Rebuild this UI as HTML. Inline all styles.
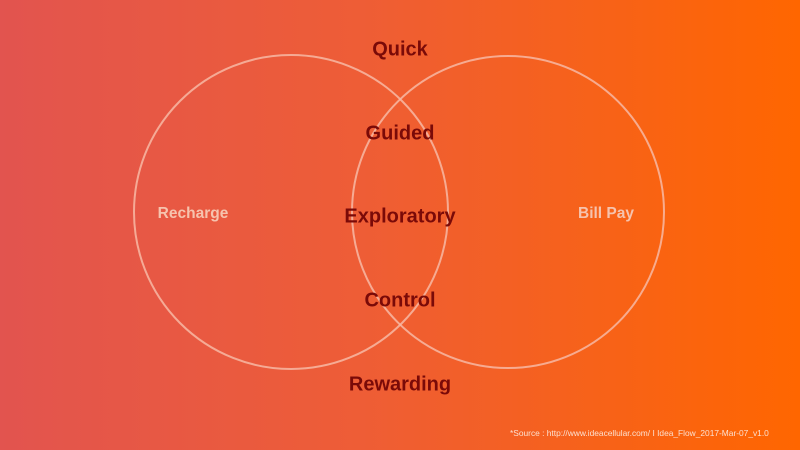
<!DOCTYPE html>
<html><head><style>
html,body{margin:0;padding:0}
body{width:800px;height:450px;overflow:hidden;background:linear-gradient(to right,#E2544F 0%,#EE5D36 45%,#FF6600 100%);font-family:"Liberation Sans",Arial,sans-serif;position:relative}
.t{position:absolute;font-weight:bold;color:#7A0A08;font-size:20px;transform:translate(-50%,-50%);white-space:nowrap}
.w{position:absolute;font-weight:bold;color:#F6C3AE;font-size:15.5px;transform:translate(-50%,-50%)}
.src{position:absolute;left:510px;top:428px;font-size:8.4px;color:#FCE0D0}
</style></head><body>
<svg width="800" height="450" style="position:absolute;left:0;top:0">
<circle cx="291" cy="212" r="157" fill="none" stroke="#F7B9A5" stroke-width="2" opacity="0.85"/>
<circle cx="508" cy="212" r="156" fill="none" stroke="#F7B9A5" stroke-width="2" opacity="0.85"/>
</svg>
<div class="t" style="left:400px;top:50px">Quick</div>
<div class="t" style="left:400px;top:134px">Guided</div>
<div class="t" style="left:400px;top:217px">Exploratory</div>
<div class="t" style="left:400px;top:301px">Control</div>
<div class="t" style="left:400px;top:385px">Rewarding</div>
<div class="w" style="left:193px;top:214px">Recharge</div>
<div class="w" style="left:606px;top:214px">Bill Pay</div>
<div class="src">*Source : http://www.ideacellular.com/ I Idea_Flow_2017-Mar-07_v1.0</div>
</body></html>
